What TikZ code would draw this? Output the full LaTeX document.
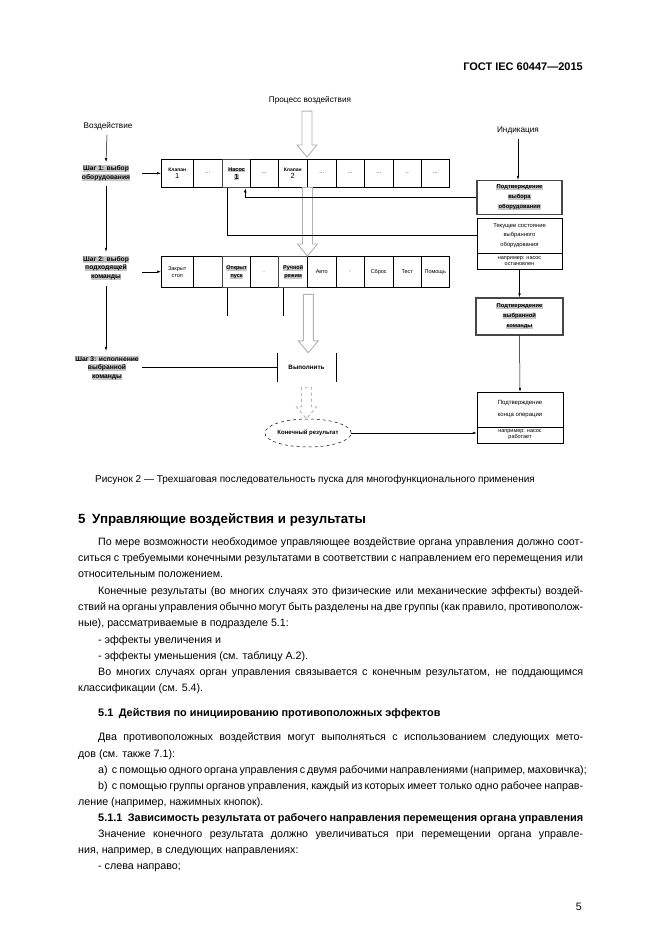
\documentclass[tikz,border=0pt]{standalone}
\usepackage{fontspec}
\setmainfont{Liberation Sans}
\usetikzlibrary{calc,arrows.meta,shapes.geometric}
\newcommand{\hlt}[1]{{\setlength{\fboxsep}{0.3pt}\colorbox{gray!45}{#1}}}
\newcommand{\fs}[2]{\fontsize{#1}{#2}\selectfont}
\newcommand{\hollowdown}[3][]{%
  \draw[hollowst,#1] let \p1=(#2), \p2=(#3) in
    (\x1-5pt,\y1) -- (\x1-5pt,\y2+12pt) -- (\x1-10pt,\y2+12pt) -- (\x1,\y2)
    -- (\x1+10pt,\y2+12pt) -- (\x1+5pt,\y2+12pt) -- (\x1+5pt,\y1) -- cycle;}
\newcommand{\jline}[4]{\node[body] (#1) at (#2,#3) {\makebox[\dimexpr583pt-#2pt\relax][s]{#4}};}
\newcommand{\nline}[4]{\node[body] (#1) at (#2,#3) {#4};}
\begin{document}
\begin{tikzpicture}[x=1pt,y=-1pt,
  lbl/.style={inner sep=0pt, font=\fs{8.2}{10}},
  stepl/.style={inner sep=0pt, align=center, font=\bfseries\fs{6.7}{8.6}},
  cellb/.style={draw, line width=0.5pt, anchor=north west, inner sep=0pt, align=center, font=\fs{5.5}{7}},
  selb/.style={cellb, draw=gray!55!black, line width=1.3pt, font=\bfseries\fs{5.5}{7.5}},
  conn/.style={line width=0.5pt, -{Latex[length=4pt,width=2.6pt]}},
  plain/.style={line width=0.5pt},
  hollowst/.style={draw=gray!60, line width=0.9pt, fill=white},
  ibox/.style={draw, line width=0.5pt, inner sep=0pt, align=center, font=\fs{5.8}{9.5}},
  cbox/.style={ibox, draw=gray!55!black, line width=1.3pt, font=\bfseries\fs{5.8}{10}},
  body/.style={inner sep=0pt, anchor=base west, font=\fs{10.7}{13}},
  bodyb/.style={body, font=\bfseries\fs{10.9}{13}}
]
\fill[white] (0,0) rectangle (661,935);
\useasboundingbox (0,0) rectangle (661,935);

% header
\node[inner sep=0pt, anchor=base east, font=\bfseries\fs{11}{13}] (hdr) at (583,70) {ГОСТ IEC 60447—2015};

% labels
\node[lbl] (pv) at (310,100) {Процесс воздействия};
\node[lbl] (vz) at (108,126) {Воздействие};
\node[lbl] (ind) at (518,130) {Индикация};

% steps
\node[stepl] (s1) at (106,173) {\hlt{Шаг 1: выбор}\\\hlt{оборудования}};
\node[stepl] (s2) at (106,268) {\hlt{Шаг 2: выбор}\\\hlt{подходящей}\\\hlt{команды}};
\node[stepl] (s3) at (107,368) {\hlt{Шаг 3: исполнение}\\\hlt{выбранной}\\\hlt{команды}};

% row 1
\node[cellb, minimum width=32, minimum height=28] (c11) at (161,159) {\textbf{\fs{5}{7}Клапан}\\\fs{7.5}{8}1};
\node[cellb, minimum width=29, minimum height=28] (c12) at (193,159) {...};
\node[selb, minimum width=28, minimum height=28] (c13) at (222,159) {\hlt{Насос}\\\hlt{\fs{7.5}{8}1}};
\node[cellb, minimum width=28, minimum height=28] (c14) at (250,159) {...};
\node[cellb, minimum width=29, minimum height=28] (c15) at (278,159) {\textbf{\fs{5}{7}Клапан}\\\fs{7.5}{8}2};
\node[cellb, minimum width=29, minimum height=28] (c16) at (307,159) {...};
\node[cellb, minimum width=28, minimum height=28] (c17) at (336,159) {...};
\node[cellb, minimum width=29, minimum height=28] (c18) at (364,159) {...};
\node[cellb, minimum width=28, minimum height=28] (c19) at (393,159) {..};
\node[cellb, minimum width=28, minimum height=28] (c110) at (421,159) {...};

% row 2
\node[cellb, minimum width=32, minimum height=31] (c21) at (161,256) {Закрыт\\стоп};
\node[cellb, minimum width=29, minimum height=31] (c22) at (193,256) {};
\node[selb, minimum width=28, minimum height=31] (c23) at (222,256) {\hlt{Открыт}\\\hlt{пуск}};
\node[cellb, minimum width=28, minimum height=31] (c24) at (250,256) {.};
\node[selb, minimum width=29, minimum height=31] (c25) at (278,256) {\hlt{Ручной}\\\hlt{режим}};
\node[cellb, minimum width=29, minimum height=31] (c26) at (307,256) {Авто};
\node[cellb, minimum width=28, minimum height=31] (c27) at (336,256) {,};
\node[cellb, minimum width=29, minimum height=31] (c28) at (364,256) {Сброс};
\node[cellb, minimum width=28, minimum height=31] (c29) at (393,256) {Тест};
\node[cellb, minimum width=28, minimum height=31] (c210) at (421,256) {Помощь};

% right column
\node[cbox, minimum width=85, minimum height=34] (b1) at (519.5,197.5) {\hlt{Подтверждение}\\\hlt{выбора}\\\hlt{оборудования}};
\node[ibox, minimum width=85, minimum height=35] (b2a) at (519.5,235.5) {Текущее состояние\\выбранного\\оборудования};
\node[ibox, minimum width=85, minimum height=16, font=\fs{5.5}{5.5}] (b2b) at (519.5,261) {например: насос\\остановлен};
\node[cbox, minimum width=87, minimum height=37] (b3) at (519.5,316.5) {\hlt{Подтверждение}\\\hlt{выбранной}\\\hlt{команды}};
\node[ibox, minimum width=86, minimum height=35, font=\fs{6}{12}] (b4a) at (520,409.5) {Подтверждение\\конца операции};
\node[ibox, minimum width=86, minimum height=16, font=\fs{5.5}{6}] (b4b) at (520,435) {например: насос\\работает};

% execute + result
\node[inner sep=0pt, minimum width=59, minimum height=29, font=\bfseries\fs{6.3}{8}] (vyp) at (306.5,367.5) {Выполнить};
\draw[plain] (vyp.north west) -- (vyp.south west);
\draw[plain] (vyp.north east) -- (vyp.south east);
\node[ellipse, draw, dashed, line width=0.5pt, minimum width=84, minimum height=28, inner sep=0pt, font=\bfseries\fs{6}{8}] (res) at (308,433) {Конечный результат};

% hollow arrows
\hollowdown{$(pv.south)+(-3,7)$}{$(c15.north east)+(0,-2)$}
\hollowdown{c15.south east}{c25.north east}
\hollowdown{$(c25.south east)+(0,6)$}{vyp.north}
\hollowdown[dashed]{$(vyp.south)+(0,5)$}{res.north}

% left column connectors
\draw[conn] ($(vz.south)+(-1,5)$) -- ($(s1.north)+(0,-3)$);
\draw[conn] ($(s1.south)+(0,5)$) -- ($(s2.north)+(0,-4)$);
\draw[conn] ($(s2.south)+(0,6)$) -- ($(s2.south |- s3.north)+(0,-5)$);
\draw[conn] ($(c11.west)+(-19,0)$) -- (c11.west);
\draw[conn] ($(c21.west)+(-19,0)$) -- (c21.west);
\draw[plain] (vyp.west) -- ($(vyp.west)+(-135,0)$);

% feedback
\draw[conn] (b1.west) -| ($(c13.south east)+(-6,0)$);
\draw[plain] ($(c13.south west)+(5,0)$) |- (b2a.west);
\draw[plain] ($(c23.south west)+(5,0)$) -- ++(0,28);
\draw[plain] ($(c25.south west)+(5,0)$) -- ++(0,28);

% right connectors
\draw[conn] ($(ind.south)+(0,5)$) -- (ind.south |- b1.north);
\draw[conn] (b2b.south) -- (b3.north);
\draw[conn] (b3.south) -- (b4a.north);
\draw[conn] (res.east) -- (res.east -| b4b.west);

% caption
\node[inner sep=0pt, anchor=base west, font=\fs{10}{12}] (cap) at (95,482) {Рисунок 2 — Трехшаговая последовательность пуска для многофункционального применения};

% body
\node[inner sep=0pt, anchor=base west, font=\bfseries\fs{13.3}{16}] (h5) at (78,523) {5\hspace{0.5em}Управляющие воздействия и результаты};
\jline{t1}{98}{545}{По мере возможности необходимое управляющее воздействие органа управления должно соот-}
\jline{t2}{78}{561}{ситься с требуемыми конечными результатами в соответствии с направлением его перемещения или}
\nline{t3}{78}{577}{относительным положением.}
\jline{t4}{98}{594}{Конечные результаты (во многих случаях это физические или механические эффекты) воздей-}
\jline{t5}{78}{610}{ствий на органы управления обычно могут быть разделены на две группы (как правило, противополож-}
\nline{t6}{78}{626}{ные), рассматриваемые в подразделе 5.1:}
\nline{t7}{98}{643}{- эффекты увеличения и}
\nline{t8}{98}{659}{- эффекты уменьшения (см. таблицу А.2).}
\jline{t9}{98}{675}{Во многих случаях орган управления связывается с конечным результатом, не поддающимся}
\nline{t10}{78}{691}{классификации (см. 5.4).}
\node[bodyb] (h51) at (98,716) {5.1\hspace{0.5em}Действия по инициированию противоположных эффектов};
\jline{t11}{98}{740}{Два противоположных воздействия могут выполняться с использованием следующих мето-}
\nline{t12}{78}{757}{дов (см. также 7.1):}
\jline{t13}{98}{773}{а)\hspace{0.4em}с помощью одного органа управления с двумя рабочими направлениями (например, маховичка);}
\jline{t14}{98}{789}{b)\hspace{0.4em}с помощью группы органов управления, каждый из которых имеет только одно рабочее направ-}
\nline{t15}{78}{805}{ление (например, нажимных кнопок).}
\node[bodyb] (h511) at (98,821) {\makebox[485pt][s]{5.1.1\hspace{0.5em}Зависимость результата от рабочего направления перемещения органа управления}};
\jline{t16}{98}{837}{Значение конечного результата должно увеличиваться при перемещении органа управле-}
\nline{t17}{78}{853}{ния, например, в следующих направлениях:}
\nline{t18}{98}{869}{- слева направо;}
\node[inner sep=0pt, anchor=base east, font=\fs{10.7}{13}] (pg) at (582,910) {5};
\end{tikzpicture}
\end{document}
